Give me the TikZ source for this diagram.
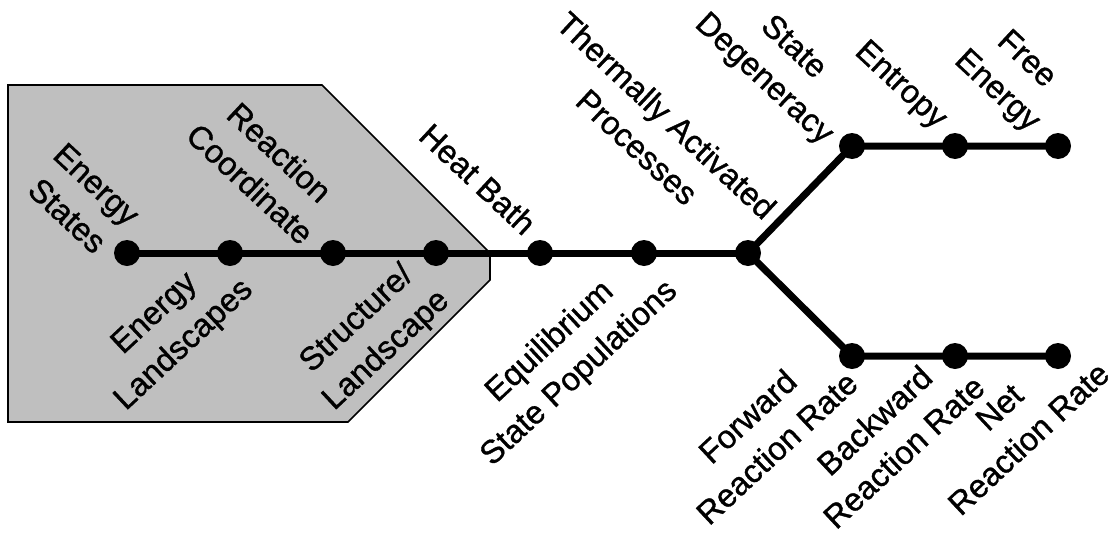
\documentclass[tikz,border=0pt]{standalone}
\usepackage{fontspec}
\setmainfont{Liberation Sans}
\newfontfamily\labelfont{Liberation Sans}[UprightFeatures={FakeBold=1}]
\begin{document}
\begin{tikzpicture}[x=1pt,y=-1pt,
  dot/.style={circle,fill=black,inner sep=0pt,minimum size=26pt},
  link/.style={line width=7pt},
  lab/.style={align=center,inner sep=0pt,font=\labelfont\fontsize{32.5}{43}\selectfont},
  uplab/.style={lab,rotate=-43},
  lowlab/.style={lab,rotate=43},
  region/.style={fill=black!25,draw=black,line width=1.6pt,line join=miter}]
\useasboundingbox (0,0) rectangle (1110,533);

% shaded region around the first four steps
\draw[region] (8,85) -- (322,85) -- (490,253) -- (490,280) -- (348,422) -- (8,422) -- cycle;

% chain of steps
\node[dot] (d1) at (127,253) {};
\node[dot] (d2) at (230,253) {};
\node[dot] (d3) at (333,253) {};
\node[dot] (d4) at (436,253) {};
\node[dot] (d5) at (540,253) {};
\node[dot] (d6) at (644,253) {};
\node[dot] (d7) at (748,253) {};
% upper branch
\node[dot] (u1) at (852,146) {};
\node[dot] (u2) at (955,146) {};
\node[dot] (u3) at (1058,146) {};
% lower branch
\node[dot] (w1) at (852,356) {};
\node[dot] (w2) at (955,356) {};
\node[dot] (w3) at (1058,356) {};

\draw[link] (d1.center) -- (d2.center) -- (d3.center) -- (d4.center) -- (d5.center) -- (d6.center) -- (d7.center);
\draw[link,line join=round] (d7.center) -- (u1.center) -- (u2.center) -- (u3.center);
\draw[link,line join=round] (d7.center) -- (w1.center) -- (w2.center) -- (w3.center);

% labels above the chain
\node[uplab] (t1) at (82,200) {Energy\\States};
\node[uplab] (t2) at (265,168) {Reaction\\Coordinate};
\node[uplab] (t3) at (478,179) {Heat Bath};
\node[uplab] (t4) at (652,131) {Thermally Activated\\Processes};
\node[uplab] (t5) at (778,64) {State\\Degeneracy};
\node[uplab] (t6) at (900,86) {Entropy};
\node[uplab] (t7) at (1011,76) {Free\\Energy};

% labels below the chain
\node[lowlab] (b1) at (170,330) {Energy\\Landscapes};
\node[lowlab] (b2) at (372,335) {Structure/\\Landscape};
\node[lowlab] (b3) at (565,358) {Equilibrium\\State Populations};
\node[lowlab] (b4) at (762,432) {Forward\\Reaction Rate};
\node[lowlab] (b5) at (889,436) {Backward\\Reaction Rate};
\node[lowlab] (b6) at (1014,423) {Net\\Reaction Rate};
\end{tikzpicture}
\end{document}
